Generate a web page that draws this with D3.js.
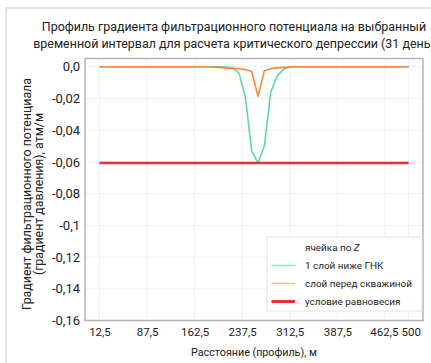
<!DOCTYPE html>
<html>
<head>
<meta charset="utf-8">
<script src="https://cdn.jsdelivr.net/npm/d3@7"></script>
<style>
  body { margin: 0; background: #fff; }
  svg { display: block; font-family: Roboto, "Noto Sans", sans-serif; }
</style>
</head>
<body>
<script>
//-----------------Data----------------

const xCells = [12.5, 25, 37.5, 50, 62.5, 75, 87.5, 100, 112.5, 125, 137.5, 150, 162.5, 175, 187.5, 200,
  212.5, 222.5, 232.5, 242.5, 252.5, 262.5, 272.5, 282.5, 292.5, 302.5, 312.5,
  325, 337.5, 350, 362.5, 375, 387.5, 400, 412.5, 425, 437.5, 450, 462.5, 475, 487.5, 500];

const greenValues = [0, 0, 0, 0, 0, 0, 0, 0, 0, 0, 0, 0, 0, 0, 0, 0,
  -0.0002, -0.0007, -0.004, -0.019, -0.053, -0.0607, -0.050, -0.016, -0.006, -0.0015, -0.0003,
  0, 0, 0, 0, 0, 0, 0, 0, 0, 0, 0, 0, 0, 0, 0];

const orangeValues = [0, 0, 0, 0, 0, 0, 0, 0, 0, 0, 0, 0, 0, 0, -0.0002, -0.0004,
  -0.0007, -0.001, -0.0013, -0.0018, -0.003, -0.0187, -0.0025, -0.0012, -0.0007, -0.0004, -0.0002,
  0, 0, 0, 0, 0, 0, 0, 0, 0, 0, 0, 0, 0, 0, 0];

const equilibrium = -0.0607;

const xTicks = [12.5, 87.5, 162.5, 237.5, 312.5, 387.5, 462.5, 500];
const xTickLabels = ["12,5", "87,5", "162,5", "237,5", "312,5", "387,5", "462,5", "500"];
const yTicks = [0, -0.02, -0.04, -0.06, -0.08, -0.1, -0.12, -0.14, -0.16];
const yTickLabels = ["0,0", "-0,02", "-0,04", "-0,06", "-0,08", "-0,1", "-0,12", "-0,14", "-0,16"];

const seriesNames = ["1 слой ниже ГНК", "слой перед скважиной", "условие равновесия"];

//-----------------Svg----------------

const width = 431;
const height = 363;
const plot = { left: 85, right: 423, top: 58.5, bottom: 320.5 };

const svg = d3.select("body").append("svg").attr("width", width).attr("height", height);

// shrink a text's font so that it spans the given width
function fitWidth(sel, node, target) {
  const size = parseFloat(sel.style("font-size"));
  const len = node.getComputedTextLength();
  sel.style("font-size", (size * target) / len + "px");
}

// outer frame
svg.append("path")
  .attr("d", "M6," + height + "V8H" + width)
  .attr("fill", "none")
  .attr("stroke", "#dcdcdc")
  .attr("stroke-width", 1.5);

//-----------------Header---------------------

const title = svg.append("text")
  .attr("text-anchor", "middle")
  .style("font-size", "13px")
  .style("fill", "#222");
const title1 = title.append("tspan").attr("x", 234).attr("y", 31).text("Профиль градиента фильтрационного потенциала на выбранный");
title.append("tspan").attr("x", 234).attr("y", 47.5).text("временной интервал для расчета критического депрессии (31 день)");
fitWidth(title, title1.node(), 385);

//----------------Scaling-----------------

const xScale = d3.scaleLinear().domain([-10.3, 522.6]).range([plot.left, plot.right]);
const yScale = d3.scaleLinear().domain([-0.16, 0.0052]).range([plot.bottom, plot.top]);

// ----------------------grid--------------------

svg.append("g")
  .selectAll("line")
  .data(xTicks)
  .enter()
  .append("line")
  .attr("x1", (d) => xScale(d))
  .attr("x2", (d) => xScale(d))
  .attr("y1", plot.top)
  .attr("y2", plot.bottom)
  .attr("stroke", "#efefef");

svg.append("g")
  .selectAll("line")
  .data(yTicks)
  .enter()
  .append("line")
  .attr("x1", plot.left)
  .attr("x2", plot.right)
  .attr("y1", (d) => yScale(d))
  .attr("y2", (d) => yScale(d))
  .attr("stroke", "#efefef");

// ----------------------axis--------------------

const xAxis = d3.axisBottom(xScale)
  .tickValues(xTicks)
  .tickFormat((d, i) => xTickLabels[i])
  .tickSize(0)
  .tickPadding(7);

svg.append("g")
  .attr("transform", "translate(0," + plot.bottom + ")")
  .call(xAxis)
  .call((g) => g.select(".domain").remove())
  .selectAll("text")
  .attr("font-size", null)
  .style("font-size", "11.5px")
  .style("fill", "#222")
  .style("font-family", "Roboto")
  .attr("dx", (d, i) => (i === xTicks.length - 1 ? 2 : i === xTicks.length - 2 ? -1 : 0));

const yAxis = d3.axisLeft(yScale)
  .tickValues(yTicks)
  .tickFormat((d, i) => yTickLabels[i])
  .tickSize(0)
  .tickPadding(5);

svg.append("g")
  .attr("transform", "translate(" + plot.left + ",0)")
  .call(yAxis)
  .call((g) => g.select(".domain").remove())
  .selectAll("text")
  .style("font-size", "13px")
  .style("fill", "#222")
  .style("font-family", "Roboto");

svg.append("rect")
  .attr("x", plot.left)
  .attr("y", plot.top)
  .attr("width", plot.right - plot.left)
  .attr("height", plot.bottom - plot.top)
  .attr("fill", "none")
  .attr("stroke", "#b4b4b4")
  .attr("stroke-width", 1.5);

const xLabel = svg.append("text")
  .text("Расстояние (профиль), м")
  .attr("x", (plot.left + plot.right) / 2)
  .attr("y", 356)
  .attr("text-anchor", "middle")
  .style("font-size", "12.5px")
  .style("fill", "#222");
fitWidth(xLabel, xLabel.node(), 126);

const yLabel = svg.append("text")
  .attr("transform", "rotate(-90)")
  .attr("text-anchor", "middle")
  .style("font-size", "12.5px")
  .style("fill", "#222");
const yLabel1 = yLabel.append("tspan").attr("x", -194).attr("y", 31).text("Градиент фильтрационного потенциала");
yLabel.append("tspan").attr("x", -194).attr("y", 43).text("(градиент давления), атм/м");
fitWidth(yLabel, yLabel1.node(), 232);

// ------------------Lines-----------------

const line = d3.line()
  .x((d) => xScale(d[0]))
  .y((d) => yScale(d[1]));

const series = [
  { values: greenValues, color: "#5fd8aa", width: 1.6 },
  { values: orangeValues, color: "#f28a3e", width: 1.6 },
  { values: xCells.map(() => equilibrium), color: "#e8302c", width: 2.6 }
];

series.forEach((s) => {
  svg.append("path")
    .datum(xCells.map((x, i) => [x, s.values[i]]))
    .attr("d", line)
    .attr("fill", "none")
    .attr("stroke", s.color)
    .attr("stroke-width", s.width)
    .attr("stroke-linejoin", "round");
});

//-----------Legend--------------

const legend = svg.append("g").attr("transform", "translate(267,237)");

legend.append("rect")
  .attr("width", 155)
  .attr("height", 74)
  .attr("fill", "#fff")
  .attr("stroke", "#e2e2e2");

const legendTitle = legend.append("text")
  .attr("x", 38)
  .attr("y", 13.5)
  .style("font-size", "10px")
  .style("fill", "#222");
legendTitle.append("tspan").text("ячейка по ");
legendTitle.append("tspan").style("font-style", "italic").text("Z");

const legendColors = ["#8fe6c8", "#ffbf8c", "#e8302c"];
const legendWidths = [1.5, 1.5, 3];

const legendTexts = [];
seriesNames.forEach((name, i) => {
  const y = 28.5 + i * 18;
  legend.append("line")
    .attr("x1", 4.5)
    .attr("x2", 28)
    .attr("y1", y)
    .attr("y2", y)
    .attr("stroke", legendColors[i])
    .attr("stroke-width", legendWidths[i]);
  legendTexts.push(legend.append("text")
    .text(name)
    .attr("x", 38)
    .attr("y", y + 3.5)
    .style("font-size", "10px")
    .style("fill", "#222"));
});

// all legend texts share the size that makes the widest one fit
const legendSize = (10 * 107) / legendTexts[1].node().getComputedTextLength();
legendTexts.forEach((t) => t.style("font-size", legendSize + "px"));
legendTitle.style("font-size", legendSize + "px");
</script>
</body>
</html>
